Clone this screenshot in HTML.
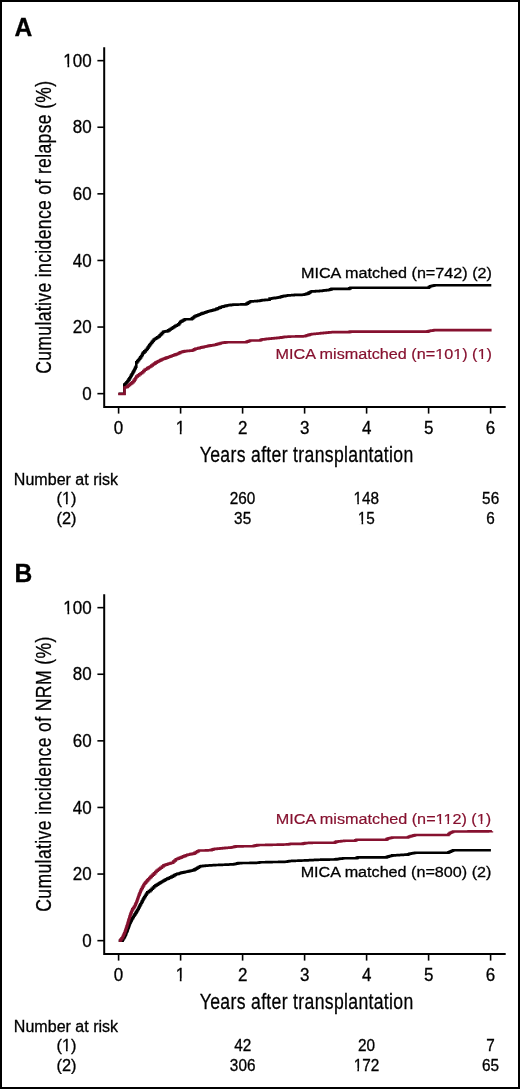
<!DOCTYPE html>
<html><head><meta charset="utf-8"><title>Cumulative incidence of relapse and NRM</title>
<style>
html,body{margin:0;padding:0;background:#fff;}
body{width:520px;height:1089px;overflow:hidden;}
.frame{position:relative;width:520px;height:1089px;box-sizing:border-box;border:2px solid #000;background:#fff;}
svg{position:absolute;left:-2px;top:-2px;filter:blur(0.35px);}
text{font-family:"Liberation Sans",sans-serif;fill:#000;stroke:#000;stroke-width:0.3px;}
text.r{fill:#86112f;stroke:#86112f;stroke-width:0.2px;}
</style></head>
<body><div class="frame">
<svg width="520" height="1089" viewBox="0 0 520 1089">
<text x="14.38" y="35.50" font-size="25.6" textLength="17.79" lengthAdjust="spacingAndGlyphs" font-weight="bold">A</text>
<text x="14.54" y="582.40" font-size="25.6" textLength="17.76" lengthAdjust="spacingAndGlyphs" font-weight="bold">B</text>
<path d="M104.2,47.2 V407.0 M103.2,407.0 H505.7" stroke="#000" stroke-width="2.0" fill="none"/>
<path d="M97.4,393.65 H104" stroke="#000" stroke-width="1.6"/>
<text x="82.22" y="399.86" font-size="17.5" textLength="9.44" lengthAdjust="spacingAndGlyphs">0</text>
<path d="M97.4,327.05 H104" stroke="#000" stroke-width="1.6"/>
<text x="72.79" y="333.26" font-size="17.5" textLength="18.88" lengthAdjust="spacingAndGlyphs">20</text>
<path d="M97.4,260.45 H104" stroke="#000" stroke-width="1.6"/>
<text x="72.79" y="266.66" font-size="17.5" textLength="18.88" lengthAdjust="spacingAndGlyphs">40</text>
<path d="M97.4,193.85 H104" stroke="#000" stroke-width="1.6"/>
<text x="72.79" y="200.06" font-size="17.5" textLength="18.88" lengthAdjust="spacingAndGlyphs">60</text>
<path d="M97.4,127.25 H104" stroke="#000" stroke-width="1.6"/>
<text x="72.79" y="133.46" font-size="17.5" textLength="18.88" lengthAdjust="spacingAndGlyphs">80</text>
<path d="M97.4,60.65 H104" stroke="#000" stroke-width="1.6"/>
<text x="63.33" y="66.86" font-size="17.5" textLength="28.32" lengthAdjust="spacingAndGlyphs">100</text>
<path d="M118.6,407.0 V413.6" stroke="#000" stroke-width="1.6"/>
<text x="113.87" y="434.20" font-size="17.5" textLength="9.44" lengthAdjust="spacingAndGlyphs">0</text>
<path d="M180.6,407.0 V413.6" stroke="#000" stroke-width="1.6"/>
<text x="175.66" y="434.20" font-size="17.5" textLength="9.44" lengthAdjust="spacingAndGlyphs">1</text>
<path d="M242.6,407.0 V413.6" stroke="#000" stroke-width="1.6"/>
<text x="237.89" y="434.20" font-size="17.5" textLength="9.44" lengthAdjust="spacingAndGlyphs">2</text>
<path d="M304.6,407.0 V413.6" stroke="#000" stroke-width="1.6"/>
<text x="299.93" y="434.20" font-size="17.5" textLength="9.44" lengthAdjust="spacingAndGlyphs">3</text>
<path d="M366.6,407.0 V413.6" stroke="#000" stroke-width="1.6"/>
<text x="361.93" y="434.20" font-size="17.5" textLength="9.44" lengthAdjust="spacingAndGlyphs">4</text>
<path d="M428.6,407.0 V413.6" stroke="#000" stroke-width="1.6"/>
<text x="423.89" y="434.20" font-size="17.5" textLength="9.44" lengthAdjust="spacingAndGlyphs">5</text>
<path d="M490.6,407.0 V413.6" stroke="#000" stroke-width="1.6"/>
<text x="485.83" y="434.20" font-size="17.5" textLength="9.44" lengthAdjust="spacingAndGlyphs">6</text>
<text transform="translate(200.20,461.60) scale(0.7863,1)" x="-0.50" y="0" font-size="22.4" textLength="271.46" lengthAdjust="spacing">Years after transplantation</text>
<text transform="translate(51.00,372.90) rotate(-90) scale(0.7846,1)" x="-1.12" y="0" font-size="22.4" textLength="373.41" lengthAdjust="spacing">Cumulative incidence of relapse (%)</text>
<path d="M118.60,393.70 L124.30,393.70 L124.30,384.60 L125.40,384.60 L125.40,383.45 L126.50,383.45 L126.50,382.30 L127.47,382.30 L127.47,380.97 L128.43,380.97 L128.43,379.63 L129.40,379.63 L129.40,378.30 L130.17,378.30 L130.17,376.93 L130.93,376.93 L130.93,375.57 L131.70,375.57 L131.70,374.20 L132.47,374.20 L132.47,372.87 L133.23,372.87 L133.23,371.53 L134.00,371.53 L134.00,370.20 L134.57,370.20 L134.57,369.05 L135.15,369.05 L135.15,367.90 L135.73,367.90 L135.73,366.75 L136.30,366.75 L136.30,365.60 L136.30,362.40 L137.27,362.40 L137.27,361.17 L138.23,361.17 L138.23,359.93 L139.20,359.93 L139.20,358.70 L140.17,358.70 L140.17,357.33 L141.13,357.33 L141.13,355.97 L142.10,355.97 L142.10,354.60 L142.60,354.60 L142.60,353.60 L143.10,353.60 L143.10,352.60 L144.37,352.60 L144.37,351.33 L145.63,351.33 L145.63,350.07 L146.90,350.07 L146.90,348.80 L147.68,348.80 L147.68,347.65 L148.45,347.65 L148.45,346.50 L149.22,346.50 L149.22,345.35 L150.00,345.35 L150.00,344.20 L150.95,344.20 L150.95,343.02 L151.90,343.02 L151.90,341.85 L152.85,341.85 L152.85,340.68 L153.80,340.68 L153.80,339.50 L154.98,339.50 L154.98,338.75 L156.15,338.75 L156.15,338.00 L157.32,338.00 L157.32,337.25 L158.50,337.25 L158.50,336.50 L159.65,336.50 L159.65,335.32 L160.80,335.32 L160.80,334.15 L161.95,334.15 L161.95,332.98 L163.10,332.98 L163.10,331.80 L164.37,331.80 L164.37,331.57 L165.63,331.57 L165.63,331.33 L166.90,331.33 L166.90,331.10 L168.20,331.10 L168.20,330.33 L169.50,330.33 L169.50,329.57 L170.80,329.57 L170.80,328.80 L171.95,328.80 L171.95,328.02 L173.10,328.02 L173.10,327.25 L174.25,327.25 L174.25,326.48 L175.40,326.48 L175.40,325.70 L176.85,325.70 L176.85,325.00 L178.30,325.00 L178.30,324.30 L179.30,324.30 L179.30,323.00 L180.30,323.00 L180.30,321.70 L181.45,321.70 L181.45,321.10 L182.60,321.10 L182.60,320.50 L183.75,320.50 L183.75,319.90 L184.90,319.90 L184.90,319.30 L190.70,319.30 L191.87,319.30 L191.87,318.37 L193.03,318.37 L193.03,317.43 L194.20,317.43 L194.20,316.50 L195.58,316.50 L195.58,315.92 L196.96,315.92 L196.96,315.34 L198.34,315.34 L198.34,314.76 L199.72,314.76 L199.72,314.18 L201.10,314.18 L201.10,313.60 L202.48,313.60 L202.48,313.14 L203.86,313.14 L203.86,312.68 L205.24,312.68 L205.24,312.22 L206.62,312.22 L206.62,311.76 L208.00,311.76 L208.00,311.30 L209.38,311.30 L209.38,310.94 L210.76,310.94 L210.76,310.58 L212.14,310.58 L212.14,310.22 L213.52,310.22 L213.52,309.86 L214.90,309.86 L214.90,309.50 L216.35,309.50 L216.35,308.88 L217.80,308.88 L217.80,308.25 L219.25,308.25 L219.25,307.62 L220.70,307.62 L220.70,307.00 L222.15,307.00 L222.15,306.62 L223.60,306.62 L223.60,306.25 L225.05,306.25 L225.05,305.88 L226.50,305.88 L226.50,305.50 L227.93,305.50 L227.93,305.30 L229.35,305.30 L229.35,305.10 L230.77,305.10 L230.77,304.90 L232.20,304.90 L232.20,304.70 L233.52,304.70 L233.52,304.66 L234.84,304.66 L234.84,304.62 L236.16,304.62 L236.16,304.58 L237.48,304.58 L237.48,304.54 L238.80,304.54 L238.80,304.50 L240.12,304.50 L240.12,304.46 L241.44,304.46 L241.44,304.42 L242.76,304.42 L242.76,304.38 L244.08,304.38 L244.08,304.34 L245.40,304.34 L245.40,304.30 L246.55,304.30 L246.55,303.60 L247.70,303.60 L247.70,302.90 L248.85,302.90 L248.85,302.20 L250.00,302.20 L250.00,301.50 L251.35,301.50 L251.35,301.40 L252.70,301.40 L252.70,301.30 L254.05,301.30 L254.05,301.20 L255.40,301.20 L255.40,301.10 L256.75,301.10 L256.75,301.00 L258.10,301.00 L258.10,300.90 L259.25,300.90 L259.25,300.70 L260.40,300.70 L260.40,300.50 L261.55,300.50 L261.55,300.30 L262.70,300.30 L262.70,300.10 L264.15,300.10 L264.15,300.00 L265.60,300.00 L265.60,299.90 L267.05,299.90 L267.05,299.80 L268.50,299.80 L268.50,299.70 L269.60,299.70 L269.60,298.60 L270.91,298.60 L270.91,298.43 L272.23,298.43 L272.23,298.26 L273.54,298.26 L273.54,298.09 L274.86,298.09 L274.86,297.91 L276.17,297.91 L276.17,297.74 L277.49,297.74 L277.49,297.57 L278.80,297.57 L278.80,297.40 L279.97,297.40 L279.97,297.03 L281.13,297.03 L281.13,296.67 L282.30,296.67 L282.30,296.30 L283.45,296.30 L283.45,296.10 L284.60,296.10 L284.60,295.90 L285.75,295.90 L285.75,295.70 L286.90,295.70 L286.90,295.50 L288.25,295.50 L288.25,295.40 L289.60,295.40 L289.60,295.30 L290.95,295.30 L290.95,295.20 L292.30,295.20 L292.30,295.10 L293.65,295.10 L293.65,295.00 L295.00,295.00 L295.00,294.90 L296.28,294.90 L296.28,294.88 L297.57,294.88 L297.57,294.87 L298.85,294.87 L298.85,294.85 L300.13,294.85 L300.13,294.83 L301.42,294.83 L301.42,294.82 L302.70,294.82 L302.70,294.80 L303.85,294.80 L303.85,294.50 L305.00,294.50 L305.00,294.20 L306.15,294.20 L306.15,293.90 L307.30,293.90 L307.30,293.60 L308.47,293.60 L308.47,292.90 L309.63,292.90 L309.63,292.20 L310.80,292.20 L310.80,291.50 L312.13,291.50 L312.13,291.42 L313.47,291.42 L313.47,291.33 L314.80,291.33 L314.80,291.25 L316.13,291.25 L316.13,291.17 L317.47,291.17 L317.47,291.08 L318.80,291.08 L318.80,291.00 L320.25,291.00 L320.25,290.85 L321.70,290.85 L321.70,290.70 L323.15,290.70 L323.15,290.55 L324.60,290.55 L324.60,290.40 L325.75,290.40 L325.75,290.25 L326.90,290.25 L326.90,290.10 L328.05,290.10 L328.05,289.95 L329.20,289.95 L329.20,289.80 L330.35,289.80 L330.35,289.35 L331.50,289.35 L331.50,288.90 L348.10,288.90 L349.25,288.90 L349.25,288.35 L350.40,288.35 L350.40,287.80 L427.70,287.80 L428.85,287.80 L428.85,287.05 L430.00,287.05 L430.00,286.30 L431.15,286.30 L431.15,286.02 L432.30,286.02 L432.30,285.75 L433.45,285.75 L433.45,285.48 L434.60,285.48 L434.60,285.20 L491.30,285.20" stroke="#000" stroke-width="2.6" fill="none"/>
<path d="M118.20,394.00 L124.50,394.00 L124.50,387.50 L125.50,387.50 L125.50,387.20 L126.50,387.20 L126.50,386.90 L127.67,386.90 L127.67,385.93 L128.83,385.93 L128.83,384.97 L130.00,384.97 L130.00,384.00 L131.15,384.00 L131.15,383.15 L132.30,383.15 L132.30,382.30 L133.45,382.30 L133.45,380.85 L134.60,380.85 L134.60,379.40 L135.45,379.40 L135.45,377.95 L136.30,377.95 L136.30,376.50 L137.75,376.50 L137.75,375.35 L139.20,375.35 L139.20,374.20 L140.65,374.20 L140.65,373.20 L142.10,373.20 L142.10,372.20 L143.35,372.20 L143.35,371.00 L144.60,371.00 L144.60,369.80 L145.95,369.80 L145.95,368.98 L147.30,368.98 L147.30,368.15 L148.65,368.15 L148.65,367.32 L150.00,367.32 L150.00,366.50 L151.35,366.50 L151.35,365.52 L152.70,365.52 L152.70,364.55 L154.05,364.55 L154.05,363.58 L155.40,363.58 L155.40,362.60 L156.62,362.60 L156.62,361.98 L157.84,361.98 L157.84,361.36 L159.06,361.36 L159.06,360.74 L160.28,360.74 L160.28,360.12 L161.50,360.12 L161.50,359.50 L162.74,359.50 L162.74,359.04 L163.98,359.04 L163.98,358.58 L165.22,358.58 L165.22,358.12 L166.46,358.12 L166.46,357.66 L167.70,357.66 L167.70,357.20 L169.05,357.20 L169.05,356.73 L170.40,356.73 L170.40,356.25 L171.75,356.25 L171.75,355.77 L173.10,355.77 L173.10,355.30 L174.32,355.30 L174.32,354.85 L175.55,354.85 L175.55,354.40 L176.78,354.40 L176.78,353.95 L178.00,353.95 L178.00,353.50 L179.15,353.50 L179.15,352.85 L180.30,352.85 L180.30,352.20 L181.45,352.20 L181.45,351.93 L182.60,351.93 L182.60,351.65 L183.75,351.65 L183.75,351.38 L184.90,351.38 L184.90,351.10 L186.28,351.10 L186.28,350.98 L187.66,350.98 L187.66,350.86 L189.04,350.86 L189.04,350.74 L190.42,350.74 L190.42,350.62 L191.80,350.62 L191.80,350.50 L192.97,350.50 L192.97,349.93 L194.13,349.93 L194.13,349.37 L195.30,349.37 L195.30,348.80 L196.75,348.80 L196.75,348.45 L198.20,348.45 L198.20,348.10 L199.65,348.10 L199.65,347.75 L201.10,347.75 L201.10,347.40 L202.48,347.40 L202.48,347.10 L203.86,347.10 L203.86,346.80 L205.24,346.80 L205.24,346.50 L206.62,346.50 L206.62,346.20 L208.00,346.20 L208.00,345.90 L209.38,345.90 L209.38,345.66 L210.76,345.66 L210.76,345.42 L212.14,345.42 L212.14,345.18 L213.52,345.18 L213.52,344.94 L214.90,344.94 L214.90,344.70 L216.35,344.70 L216.35,344.27 L217.80,344.27 L217.80,343.85 L219.25,343.85 L219.25,343.43 L220.70,343.43 L220.70,343.00 L222.15,343.00 L222.15,342.80 L223.60,342.80 L223.60,342.60 L225.05,342.60 L225.05,342.40 L226.50,342.40 L226.50,342.20 L235.00,342.20 L245.40,342.20 L246.55,342.20 L246.55,341.77 L247.70,341.77 L247.70,341.35 L248.85,341.35 L248.85,340.93 L250.00,340.93 L250.00,340.50 L259.20,340.50 L260.35,340.50 L260.35,340.00 L261.50,340.00 L261.50,339.50 L262.85,339.50 L262.85,339.35 L264.20,339.35 L264.20,339.20 L265.55,339.20 L265.55,339.05 L266.90,339.05 L266.90,338.90 L268.25,338.90 L268.25,338.75 L269.60,338.75 L269.60,338.60 L270.91,338.60 L270.91,338.49 L272.23,338.49 L272.23,338.37 L273.54,338.37 L273.54,338.26 L274.86,338.26 L274.86,338.14 L276.17,338.14 L276.17,338.03 L277.49,338.03 L277.49,337.91 L278.80,337.91 L278.80,337.80 L279.98,337.80 L279.98,337.60 L281.15,337.60 L281.15,337.40 L282.32,337.40 L282.32,337.20 L283.50,337.20 L283.50,337.00 L284.80,337.00 L284.80,336.90 L286.10,336.90 L286.10,336.80 L287.40,336.80 L287.40,336.70 L288.70,336.70 L288.70,336.60 L290.00,336.60 L290.00,336.50 L291.25,336.50 L291.25,336.48 L292.51,336.48 L292.51,336.46 L293.76,336.46 L293.76,336.45 L295.02,336.45 L295.02,336.43 L296.27,336.43 L296.27,336.41 L297.53,336.41 L297.53,336.39 L298.78,336.39 L298.78,336.37 L300.04,336.37 L300.04,336.35 L301.29,336.35 L301.29,336.34 L302.55,336.34 L302.55,336.32 L303.80,336.32 L303.80,336.30 L304.97,336.30 L304.97,335.93 L306.13,335.93 L306.13,335.57 L307.30,335.57 L307.30,335.20 L308.47,335.20 L308.47,334.87 L309.63,334.87 L309.63,334.53 L310.80,334.53 L310.80,334.20 L312.11,334.20 L312.11,334.07 L313.43,334.07 L313.43,333.94 L314.74,333.94 L314.74,333.81 L316.06,333.81 L316.06,333.69 L317.37,333.69 L317.37,333.56 L318.69,333.56 L318.69,333.43 L320.00,333.43 L320.00,333.30 L321.35,333.30 L321.35,333.17 L322.70,333.17 L322.70,333.03 L324.05,333.03 L324.05,332.90 L325.40,332.90 L325.40,332.77 L326.75,332.77 L326.75,332.63 L328.10,332.63 L328.10,332.50 L329.25,332.50 L329.25,332.40 L330.40,332.40 L330.40,332.30 L331.55,332.30 L331.55,332.20 L332.70,332.20 L332.70,332.10 L348.10,332.10 L349.25,332.10 L349.25,331.85 L350.40,331.85 L350.40,331.60 L426.50,331.60 L427.67,331.60 L427.67,331.33 L428.83,331.33 L428.83,331.07 L430.00,331.07 L430.00,330.80 L431.15,330.80 L431.15,330.62 L432.30,330.62 L432.30,330.45 L433.45,330.45 L433.45,330.28 L434.60,330.28 L434.60,330.10 L491.60,330.10" stroke="#86112f" stroke-width="2.6" fill="none"/>
<text x="300.97" y="277.90" font-size="15.2" textLength="190.96" lengthAdjust="spacingAndGlyphs">MICA matched (n=742) (2)</text>
<text x="275.46" y="359.20" font-size="15.2" textLength="216.47" lengthAdjust="spacingAndGlyphs" class="r">MICA mismatched (n=101) (1)</text>
<text x="13.88" y="484.80" font-size="15.8" textLength="104.21" lengthAdjust="spacingAndGlyphs">Number at risk</text>
<text x="56.58" y="504.40" font-size="15.8" textLength="19.93" lengthAdjust="spacingAndGlyphs">(1)</text>
<text x="56.58" y="523.50" font-size="15.8" textLength="19.93" lengthAdjust="spacingAndGlyphs">(2)</text>
<text x="229.73" y="504.40" font-size="15.8" textLength="25.57" lengthAdjust="spacingAndGlyphs">260</text>
<text x="353.57" y="504.40" font-size="15.8" textLength="25.57" lengthAdjust="spacingAndGlyphs">148</text>
<text x="482.11" y="504.40" font-size="15.8" textLength="17.05" lengthAdjust="spacingAndGlyphs">56</text>
<text x="234.11" y="523.50" font-size="15.8" textLength="17.05" lengthAdjust="spacingAndGlyphs">35</text>
<text x="357.83" y="523.50" font-size="15.8" textLength="17.05" lengthAdjust="spacingAndGlyphs">15</text>
<text x="486.29" y="523.50" font-size="15.8" textLength="8.52" lengthAdjust="spacingAndGlyphs">6</text>
<path d="M104.2,594.2 V954.0 M103.2,954.0 H505.7" stroke="#000" stroke-width="2.0" fill="none"/>
<path d="M97.4,940.65 H104" stroke="#000" stroke-width="1.6"/>
<text x="82.22" y="946.86" font-size="17.5" textLength="9.44" lengthAdjust="spacingAndGlyphs">0</text>
<path d="M97.4,874.05 H104" stroke="#000" stroke-width="1.6"/>
<text x="72.79" y="880.26" font-size="17.5" textLength="18.88" lengthAdjust="spacingAndGlyphs">20</text>
<path d="M97.4,807.45 H104" stroke="#000" stroke-width="1.6"/>
<text x="72.79" y="813.66" font-size="17.5" textLength="18.88" lengthAdjust="spacingAndGlyphs">40</text>
<path d="M97.4,740.85 H104" stroke="#000" stroke-width="1.6"/>
<text x="72.79" y="747.06" font-size="17.5" textLength="18.88" lengthAdjust="spacingAndGlyphs">60</text>
<path d="M97.4,674.25 H104" stroke="#000" stroke-width="1.6"/>
<text x="72.79" y="680.46" font-size="17.5" textLength="18.88" lengthAdjust="spacingAndGlyphs">80</text>
<path d="M97.4,607.65 H104" stroke="#000" stroke-width="1.6"/>
<text x="63.33" y="613.86" font-size="17.5" textLength="28.32" lengthAdjust="spacingAndGlyphs">100</text>
<path d="M118.6,954.0 V960.6" stroke="#000" stroke-width="1.6"/>
<text x="113.87" y="981.20" font-size="17.5" textLength="9.44" lengthAdjust="spacingAndGlyphs">0</text>
<path d="M180.6,954.0 V960.6" stroke="#000" stroke-width="1.6"/>
<text x="175.66" y="981.20" font-size="17.5" textLength="9.44" lengthAdjust="spacingAndGlyphs">1</text>
<path d="M242.6,954.0 V960.6" stroke="#000" stroke-width="1.6"/>
<text x="237.89" y="981.20" font-size="17.5" textLength="9.44" lengthAdjust="spacingAndGlyphs">2</text>
<path d="M304.6,954.0 V960.6" stroke="#000" stroke-width="1.6"/>
<text x="299.93" y="981.20" font-size="17.5" textLength="9.44" lengthAdjust="spacingAndGlyphs">3</text>
<path d="M366.6,954.0 V960.6" stroke="#000" stroke-width="1.6"/>
<text x="361.93" y="981.20" font-size="17.5" textLength="9.44" lengthAdjust="spacingAndGlyphs">4</text>
<path d="M428.6,954.0 V960.6" stroke="#000" stroke-width="1.6"/>
<text x="423.89" y="981.20" font-size="17.5" textLength="9.44" lengthAdjust="spacingAndGlyphs">5</text>
<path d="M490.6,954.0 V960.6" stroke="#000" stroke-width="1.6"/>
<text x="485.83" y="981.20" font-size="17.5" textLength="9.44" lengthAdjust="spacingAndGlyphs">6</text>
<text transform="translate(200.20,1008.60) scale(0.7863,1)" x="-0.50" y="0" font-size="22.4" textLength="271.46" lengthAdjust="spacing">Years after transplantation</text>
<text transform="translate(51.00,910.90) rotate(-90) scale(0.7859,1)" x="-1.12" y="0" font-size="22.4" textLength="350.02" lengthAdjust="spacing">Cumulative incidence of NRM (%)</text>
<path d="M118.70,940.80 L120.30,940.80 L120.30,940.70 L121.90,940.70 L121.90,940.60 L122.62,940.60 L122.62,939.45 L123.35,939.45 L123.35,938.30 L124.08,938.30 L124.08,937.15 L124.80,937.15 L124.80,936.00 L125.38,936.00 L125.38,934.60 L125.96,934.60 L125.96,933.20 L126.54,933.20 L126.54,931.80 L127.12,931.80 L127.12,930.40 L127.70,930.40 L127.70,929.00 L128.16,929.00 L128.16,927.74 L128.62,927.74 L128.62,926.48 L129.08,926.48 L129.08,925.22 L129.54,925.22 L129.54,923.96 L130.00,923.96 L130.00,922.70 L130.57,922.70 L130.57,921.55 L131.15,921.55 L131.15,920.40 L131.73,920.40 L131.73,919.25 L132.30,919.25 L132.30,918.10 L133.03,918.10 L133.03,916.95 L133.75,916.95 L133.75,915.80 L134.47,915.80 L134.47,914.65 L135.20,914.65 L135.20,913.50 L135.92,913.50 L135.92,912.33 L136.65,912.33 L136.65,911.15 L137.38,911.15 L137.38,909.97 L138.10,909.97 L138.10,908.80 L138.68,908.80 L138.68,907.65 L139.25,907.65 L139.25,906.50 L139.82,906.50 L139.82,905.35 L140.40,905.35 L140.40,904.20 L141.15,904.20 L141.15,902.78 L141.90,902.78 L141.90,901.35 L142.65,901.35 L142.65,899.92 L143.40,899.92 L143.40,898.50 L144.18,898.50 L144.18,897.26 L144.96,897.26 L144.96,896.02 L145.74,896.02 L145.74,894.78 L146.52,894.78 L146.52,893.54 L147.30,893.54 L147.30,892.30 L148.85,892.30 L148.85,891.15 L150.40,891.15 L150.40,890.00 L151.67,890.00 L151.67,888.73 L152.93,888.73 L152.93,887.47 L154.20,887.47 L154.20,886.20 L155.50,886.20 L155.50,885.40 L156.80,885.40 L156.80,884.60 L158.10,884.60 L158.10,883.80 L159.37,883.80 L159.37,883.03 L160.63,883.03 L160.63,882.27 L161.90,882.27 L161.90,881.50 L163.20,881.50 L163.20,880.73 L164.50,880.73 L164.50,879.97 L165.80,879.97 L165.80,879.20 L167.20,879.20 L167.20,878.60 L168.60,878.60 L168.60,878.00 L170.00,878.00 L170.00,877.40 L171.45,877.40 L171.45,876.62 L172.90,876.62 L172.90,875.85 L174.35,875.85 L174.35,875.07 L175.80,875.07 L175.80,874.30 L177.23,874.30 L177.23,873.88 L178.65,873.88 L178.65,873.45 L180.07,873.45 L180.07,873.02 L181.50,873.02 L181.50,872.60 L182.95,872.60 L182.95,872.33 L184.40,872.33 L184.40,872.05 L185.85,872.05 L185.85,871.77 L187.30,871.77 L187.30,871.50 L188.75,871.50 L188.75,871.15 L190.20,871.15 L190.20,870.80 L191.65,870.80 L191.65,870.45 L193.10,870.45 L193.10,870.10 L194.48,870.10 L194.48,869.34 L195.86,869.34 L195.86,868.58 L197.24,868.58 L197.24,867.82 L198.62,867.82 L198.62,867.06 L200.00,867.06 L200.00,866.30 L201.15,866.30 L201.15,866.15 L202.30,866.15 L202.30,866.00 L203.45,866.00 L203.45,865.85 L204.60,865.85 L204.60,865.70 L205.91,865.70 L205.91,865.61 L207.23,865.61 L207.23,865.53 L208.54,865.53 L208.54,865.44 L209.86,865.44 L209.86,865.36 L211.17,865.36 L211.17,865.27 L212.49,865.27 L212.49,865.19 L213.80,865.19 L213.80,865.10 L215.15,865.10 L215.15,865.05 L216.50,865.05 L216.50,865.00 L217.85,865.00 L217.85,864.95 L219.20,864.95 L219.20,864.90 L220.55,864.90 L220.55,864.85 L221.90,864.85 L221.90,864.80 L223.14,864.80 L223.14,864.74 L224.39,864.74 L224.39,864.69 L225.63,864.69 L225.63,864.63 L226.88,864.63 L226.88,864.58 L228.12,864.58 L228.12,864.52 L229.37,864.52 L229.37,864.47 L230.61,864.47 L230.61,864.41 L231.86,864.41 L231.86,864.36 L233.10,864.36 L233.10,864.30 L234.45,864.30 L234.45,864.00 L235.80,864.00 L235.80,863.70 L237.15,863.70 L237.15,863.40 L238.50,863.40 L238.50,863.10 L239.84,863.10 L239.84,863.08 L241.19,863.08 L241.19,863.06 L242.53,863.06 L242.53,863.04 L243.87,863.04 L243.87,863.01 L245.21,863.01 L245.21,862.99 L246.56,862.99 L246.56,862.97 L247.90,862.97 L247.90,862.95 L249.24,862.95 L249.24,862.93 L250.59,862.93 L250.59,862.91 L251.93,862.91 L251.93,862.89 L253.27,862.89 L253.27,862.86 L254.61,862.86 L254.61,862.84 L255.96,862.84 L255.96,862.82 L257.30,862.82 L257.30,862.80 L258.65,862.80 L258.65,862.55 L260.00,862.55 L260.00,862.30 L261.28,862.30 L261.28,862.27 L262.56,862.27 L262.56,862.25 L263.84,862.25 L263.84,862.22 L265.12,862.22 L265.12,862.20 L266.40,862.20 L266.40,862.17 L267.68,862.17 L267.68,862.15 L268.96,862.15 L268.96,862.12 L270.24,862.12 L270.24,862.10 L271.52,862.10 L271.52,862.07 L272.80,862.07 L272.80,862.05 L274.08,862.05 L274.08,862.02 L275.36,862.02 L275.36,862.00 L276.64,862.00 L276.64,861.97 L277.92,861.97 L277.92,861.95 L279.20,861.95 L279.20,861.92 L280.48,861.92 L280.48,861.90 L281.76,861.90 L281.76,861.88 L283.04,861.88 L283.04,861.85 L284.32,861.85 L284.32,861.82 L285.60,861.82 L285.60,861.80 L286.93,861.80 L286.93,861.53 L288.27,861.53 L288.27,861.27 L289.60,861.27 L289.60,861.00 L290.88,861.00 L290.88,860.95 L292.17,860.95 L292.17,860.90 L293.45,860.90 L293.45,860.85 L294.73,860.85 L294.73,860.80 L296.02,860.80 L296.02,860.75 L297.30,860.75 L297.30,860.70 L298.58,860.70 L298.58,860.65 L299.87,860.65 L299.87,860.60 L301.15,860.60 L301.15,860.55 L302.43,860.55 L302.43,860.50 L303.72,860.50 L303.72,860.45 L305.00,860.45 L305.00,860.40 L306.25,860.40 L306.25,860.34 L307.51,860.34 L307.51,860.27 L308.76,860.27 L308.76,860.21 L310.02,860.21 L310.02,860.15 L311.27,860.15 L311.27,860.08 L312.53,860.08 L312.53,860.02 L313.78,860.02 L313.78,859.95 L315.04,859.95 L315.04,859.89 L316.29,859.89 L316.29,859.83 L317.55,859.83 L317.55,859.76 L318.80,859.76 L318.80,859.70 L320.05,859.70 L320.05,859.68 L321.30,859.68 L321.30,859.67 L322.55,859.67 L322.55,859.65 L323.80,859.65 L323.80,859.63 L325.05,859.63 L325.05,859.62 L326.30,859.62 L326.30,859.60 L327.55,859.60 L327.55,859.58 L328.80,859.58 L328.80,859.57 L330.05,859.57 L330.05,859.55 L331.30,859.55 L331.30,859.53 L332.55,859.53 L332.55,859.52 L333.80,859.52 L333.80,859.50 L335.13,859.50 L335.13,859.33 L336.46,859.33 L336.46,859.16 L337.79,859.16 L337.79,858.99 L339.11,858.99 L339.11,858.81 L340.44,858.81 L340.44,858.64 L341.77,858.64 L341.77,858.47 L343.10,858.47 L343.10,858.30 L355.40,858.30 L356.55,858.30 L356.55,857.85 L357.70,857.85 L357.70,857.40 L385.40,857.40 L386.55,857.40 L386.55,857.00 L387.70,857.00 L387.70,856.60 L388.85,856.60 L388.85,856.30 L390.00,856.30 L390.00,856.00 L391.15,856.00 L391.15,855.70 L392.30,855.70 L392.30,855.40 L393.63,855.40 L393.63,855.33 L394.95,855.33 L394.95,855.25 L396.28,855.25 L396.28,855.18 L397.61,855.18 L397.61,855.11 L398.94,855.11 L398.94,855.04 L400.26,855.04 L400.26,854.96 L401.59,854.96 L401.59,854.89 L402.92,854.89 L402.92,854.82 L404.25,854.82 L404.25,854.75 L405.57,854.75 L405.57,854.67 L406.90,854.67 L406.90,854.60 L408.05,854.60 L408.05,854.20 L409.20,854.20 L409.20,853.80 L410.65,853.80 L410.65,853.55 L412.10,853.55 L412.10,853.30 L413.55,853.30 L413.55,853.05 L415.00,853.05 L415.00,852.80 L447.30,852.80 L448.45,852.80 L448.45,852.25 L449.60,852.25 L449.60,851.70 L450.77,851.70 L450.77,851.23 L451.93,851.23 L451.93,850.77 L453.10,850.77 L453.10,850.30 L490.90,850.30" stroke="#000" stroke-width="2.6" fill="none"/>
<path d="M118.80,940.60 L119.60,940.60 L120.57,940.60 L120.57,939.43 L121.53,939.43 L121.53,938.27 L122.50,938.27 L122.50,937.10 L123.08,937.10 L123.08,935.80 L123.65,935.80 L123.65,934.50 L124.22,934.50 L124.22,933.20 L124.80,933.20 L124.80,931.90 L125.26,931.90 L125.26,930.52 L125.72,930.52 L125.72,929.14 L126.18,929.14 L126.18,927.76 L126.64,927.76 L126.64,926.38 L127.10,926.38 L127.10,925.00 L127.53,925.00 L127.53,923.55 L127.95,923.55 L127.95,922.10 L128.38,922.10 L128.38,920.65 L128.80,920.65 L128.80,919.20 L129.25,919.20 L129.25,917.78 L129.70,917.78 L129.70,916.35 L130.15,916.35 L130.15,914.92 L130.60,914.92 L130.60,913.50 L131.17,913.50 L131.17,912.13 L131.73,912.13 L131.73,910.77 L132.30,910.77 L132.30,909.40 L133.07,909.40 L133.07,908.27 L133.83,908.27 L133.83,907.13 L134.60,907.13 L134.60,906.00 L135.20,906.00 L135.20,904.62 L135.80,904.62 L135.80,903.25 L136.40,903.25 L136.40,901.88 L137.00,901.88 L137.00,900.50 L137.40,900.50 L137.40,899.32 L137.80,899.32 L137.80,898.14 L138.20,898.14 L138.20,896.96 L138.60,896.96 L138.60,895.78 L139.00,895.78 L139.00,894.60 L139.55,894.60 L139.55,893.25 L140.10,893.25 L140.10,891.90 L140.65,891.90 L140.65,890.55 L141.20,890.55 L141.20,889.20 L141.95,889.20 L141.95,887.85 L142.70,887.85 L142.70,886.50 L143.45,886.50 L143.45,885.15 L144.20,885.15 L144.20,883.80 L145.17,883.80 L145.17,882.65 L146.15,882.65 L146.15,881.50 L147.12,881.50 L147.12,880.35 L148.10,880.35 L148.10,879.20 L149.25,879.20 L149.25,878.05 L150.40,878.05 L150.40,876.90 L151.55,876.90 L151.55,875.75 L152.70,875.75 L152.70,874.60 L153.97,874.60 L153.97,873.33 L155.23,873.33 L155.23,872.07 L156.50,872.07 L156.50,870.80 L157.80,870.80 L157.80,869.77 L159.10,869.77 L159.10,868.73 L160.40,868.73 L160.40,867.70 L161.95,867.70 L161.95,866.55 L163.50,866.55 L163.50,865.40 L164.65,865.40 L164.65,865.00 L165.80,865.00 L165.80,864.60 L166.95,864.60 L166.95,864.20 L168.10,864.20 L168.10,863.80 L169.37,863.80 L169.37,863.43 L170.63,863.43 L170.63,863.07 L171.90,863.07 L171.90,862.70 L173.20,862.70 L173.20,861.57 L174.50,861.57 L174.50,860.43 L175.80,860.43 L175.80,859.30 L177.23,859.30 L177.23,858.72 L178.65,858.72 L178.65,858.15 L180.07,858.15 L180.07,857.58 L181.50,857.58 L181.50,857.00 L182.95,857.00 L182.95,856.42 L184.40,856.42 L184.40,855.85 L185.85,855.85 L185.85,855.28 L187.30,855.28 L187.30,854.70 L188.75,854.70 L188.75,854.43 L190.20,854.43 L190.20,854.15 L191.65,854.15 L191.65,853.88 L193.10,853.88 L193.10,853.60 L194.53,853.60 L194.53,852.83 L195.95,852.83 L195.95,852.05 L197.38,852.05 L197.38,851.27 L198.80,851.27 L198.80,850.50 L204.60,850.50 L206.05,850.50 L206.05,850.40 L207.50,850.40 L207.50,850.30 L208.95,850.30 L208.95,850.20 L210.40,850.20 L210.40,850.10 L211.53,850.10 L211.53,849.73 L212.67,849.73 L212.67,849.37 L213.80,849.37 L213.80,849.00 L215.15,849.00 L215.15,848.87 L216.50,848.87 L216.50,848.73 L217.85,848.73 L217.85,848.60 L219.20,848.60 L219.20,848.47 L220.55,848.47 L220.55,848.33 L221.90,848.33 L221.90,848.20 L223.11,848.20 L223.11,848.10 L224.33,848.10 L224.33,848.00 L225.54,848.00 L225.54,847.90 L226.76,847.90 L226.76,847.80 L227.97,847.80 L227.97,847.70 L229.19,847.70 L229.19,847.60 L230.40,847.60 L230.40,847.50 L231.75,847.50 L231.75,847.23 L233.10,847.23 L233.10,846.95 L234.45,846.95 L234.45,846.67 L235.80,846.67 L235.80,846.40 L237.14,846.40 L237.14,846.38 L238.48,846.38 L238.48,846.37 L239.83,846.37 L239.83,846.35 L241.17,846.35 L241.17,846.33 L242.51,846.33 L242.51,846.32 L243.85,846.32 L243.85,846.30 L245.19,846.30 L245.19,846.28 L246.53,846.28 L246.53,846.27 L247.88,846.27 L247.88,846.25 L249.22,846.25 L249.22,846.23 L250.56,846.23 L250.56,846.22 L251.90,846.22 L251.90,846.20 L253.25,846.20 L253.25,845.93 L254.60,845.93 L254.60,845.65 L255.95,845.65 L255.95,845.38 L257.30,845.38 L257.30,845.10 L258.59,845.10 L258.59,845.07 L259.87,845.07 L259.87,845.05 L261.16,845.05 L261.16,845.02 L262.45,845.02 L262.45,844.99 L263.73,844.99 L263.73,844.96 L265.02,844.96 L265.02,844.94 L266.30,844.94 L266.30,844.91 L267.59,844.91 L267.59,844.88 L268.88,844.88 L268.88,844.85 L270.16,844.85 L270.16,844.83 L271.45,844.83 L271.45,844.80 L272.74,844.80 L272.74,844.77 L274.02,844.77 L274.02,844.75 L275.31,844.75 L275.31,844.72 L276.60,844.72 L276.60,844.69 L277.88,844.69 L277.88,844.66 L279.17,844.66 L279.17,844.64 L280.45,844.64 L280.45,844.61 L281.74,844.61 L281.74,844.58 L283.03,844.58 L283.03,844.55 L284.31,844.55 L284.31,844.53 L285.60,844.53 L285.60,844.50 L286.93,844.50 L286.93,844.35 L288.25,844.35 L288.25,844.20 L289.57,844.20 L289.57,844.05 L290.90,844.05 L290.90,843.90 L301.50,843.90 L302.67,843.90 L302.67,843.63 L303.83,843.63 L303.83,843.37 L305.00,843.37 L305.00,843.10 L306.35,843.10 L306.35,843.03 L307.70,843.03 L307.70,842.97 L309.05,842.97 L309.05,842.90 L310.40,842.90 L310.40,842.83 L311.75,842.83 L311.75,842.77 L313.10,842.77 L313.10,842.70 L333.80,842.70 L335.00,842.70 L335.00,842.15 L336.20,842.15 L336.20,841.60 L337.53,841.60 L337.53,841.47 L338.87,841.47 L338.87,841.33 L340.20,841.33 L340.20,841.20 L341.53,841.20 L341.53,841.07 L342.87,841.07 L342.87,840.93 L344.20,840.93 L344.20,840.80 L354.20,840.80 L355.35,840.80 L355.35,840.30 L356.50,840.30 L356.50,839.80 L385.40,839.80 L386.55,839.80 L386.55,839.15 L387.70,839.15 L387.70,838.50 L388.85,838.50 L388.85,838.25 L390.00,838.25 L390.00,838.00 L391.15,838.00 L391.15,837.75 L392.30,837.75 L392.30,837.50 L406.90,837.50 L408.05,837.50 L408.05,837.00 L409.20,837.00 L409.20,836.50 L410.65,836.50 L410.65,836.12 L412.10,836.12 L412.10,835.75 L413.55,835.75 L413.55,835.38 L415.00,835.38 L415.00,835.00 L447.30,835.00 L448.45,835.00 L448.45,834.00 L449.60,834.00 L449.60,833.00 L450.77,833.00 L450.77,832.50 L451.93,832.50 L451.93,832.00 L453.10,832.00 L453.10,831.50 L454.39,831.50 L454.39,831.49 L455.69,831.49 L455.69,831.49 L456.98,831.49 L456.98,831.48 L458.27,831.48 L458.27,831.47 L459.57,831.47 L459.57,831.47 L460.86,831.47 L460.86,831.46 L462.15,831.46 L462.15,831.45 L463.45,831.45 L463.45,831.45 L464.74,831.45 L464.74,831.44 L466.03,831.44 L466.03,831.43 L467.33,831.43 L467.33,831.43 L468.62,831.43 L468.62,831.42 L469.91,831.42 L469.91,831.41 L471.21,831.41 L471.21,831.41 L472.50,831.41 L472.50,831.40 L473.79,831.40 L473.79,831.39 L475.09,831.39 L475.09,831.39 L476.38,831.39 L476.38,831.38 L477.67,831.38 L477.67,831.37 L478.97,831.37 L478.97,831.37 L480.26,831.37 L480.26,831.36 L481.55,831.36 L481.55,831.35 L482.85,831.35 L482.85,831.35 L484.14,831.35 L484.14,831.34 L485.43,831.34 L485.43,831.33 L486.73,831.33 L486.73,831.33 L488.02,831.33 L488.02,831.32 L489.31,831.32 L489.31,831.31 L490.61,831.31 L490.61,831.31 L491.90,831.31 L491.90,831.30" stroke="#86112f" stroke-width="2.6" fill="none"/>
<text x="275.66" y="823.60" font-size="15.2" textLength="215.54" lengthAdjust="spacingAndGlyphs" class="r">MICA mismatched (n=112) (1)</text>
<text x="300.67" y="876.60" font-size="15.2" textLength="190.76" lengthAdjust="spacingAndGlyphs">MICA matched (n=800) (2)</text>
<text x="13.88" y="1031.80" font-size="15.8" textLength="104.21" lengthAdjust="spacingAndGlyphs">Number at risk</text>
<text x="56.58" y="1051.40" font-size="15.8" textLength="19.93" lengthAdjust="spacingAndGlyphs">(1)</text>
<text x="56.58" y="1070.50" font-size="15.8" textLength="19.93" lengthAdjust="spacingAndGlyphs">(2)</text>
<text x="234.30" y="1051.40" font-size="15.8" textLength="17.05" lengthAdjust="spacingAndGlyphs">42</text>
<text x="358.00" y="1051.40" font-size="15.8" textLength="17.05" lengthAdjust="spacingAndGlyphs">20</text>
<text x="486.33" y="1051.40" font-size="15.8" textLength="8.52" lengthAdjust="spacingAndGlyphs">7</text>
<text x="229.86" y="1070.50" font-size="15.8" textLength="25.57" lengthAdjust="spacingAndGlyphs">306</text>
<text x="353.63" y="1070.50" font-size="15.8" textLength="25.57" lengthAdjust="spacingAndGlyphs">172</text>
<text x="482.02" y="1070.50" font-size="15.8" textLength="17.05" lengthAdjust="spacingAndGlyphs">65</text>
<rect x="63.62" y="64.15" width="3.86" height="4.11" fill="#fff"/>
<rect x="69.22" y="64.15" width="3.72" height="4.11" fill="#fff"/>
<rect x="175.95" y="431.49" width="3.86" height="4.11" fill="#fff"/>
<rect x="181.55" y="431.49" width="3.72" height="4.11" fill="#fff"/>
<rect x="435.45" y="356.66" width="3.72" height="3.94" fill="#fff"/>
<rect x="440.84" y="356.66" width="3.59" height="3.94" fill="#fff"/>
<rect x="453.46" y="356.66" width="3.72" height="3.94" fill="#fff"/>
<rect x="458.85" y="356.66" width="3.59" height="3.94" fill="#fff"/>
<rect x="477.75" y="356.66" width="3.72" height="3.94" fill="#fff"/>
<rect x="483.15" y="356.66" width="3.59" height="3.94" fill="#fff"/>
<rect x="62.24" y="501.82" width="3.74" height="3.98" fill="#fff"/>
<rect x="67.67" y="501.82" width="3.61" height="3.98" fill="#fff"/>
<rect x="353.74" y="501.82" width="3.57" height="3.98" fill="#fff"/>
<rect x="358.90" y="501.82" width="3.45" height="3.98" fill="#fff"/>
<rect x="358.00" y="520.92" width="3.57" height="3.98" fill="#fff"/>
<rect x="363.16" y="520.92" width="3.45" height="3.98" fill="#fff"/>
<rect x="63.62" y="611.15" width="3.86" height="4.11" fill="#fff"/>
<rect x="69.22" y="611.15" width="3.72" height="4.11" fill="#fff"/>
<rect x="175.95" y="978.49" width="3.86" height="4.11" fill="#fff"/>
<rect x="181.55" y="978.49" width="3.72" height="4.11" fill="#fff"/>
<rect x="435.85" y="821.06" width="3.73" height="3.94" fill="#fff"/>
<rect x="441.26" y="821.06" width="3.60" height="3.94" fill="#fff"/>
<rect x="443.66" y="821.06" width="3.73" height="3.94" fill="#fff"/>
<rect x="449.07" y="821.06" width="3.60" height="3.94" fill="#fff"/>
<rect x="476.99" y="821.06" width="3.73" height="3.94" fill="#fff"/>
<rect x="482.40" y="821.06" width="3.60" height="3.94" fill="#fff"/>
<rect x="62.24" y="1048.82" width="3.74" height="3.98" fill="#fff"/>
<rect x="67.67" y="1048.82" width="3.61" height="3.98" fill="#fff"/>
<rect x="353.80" y="1067.92" width="3.57" height="3.98" fill="#fff"/>
<rect x="358.96" y="1067.92" width="3.45" height="3.98" fill="#fff"/>
</svg>
</div></body></html>
